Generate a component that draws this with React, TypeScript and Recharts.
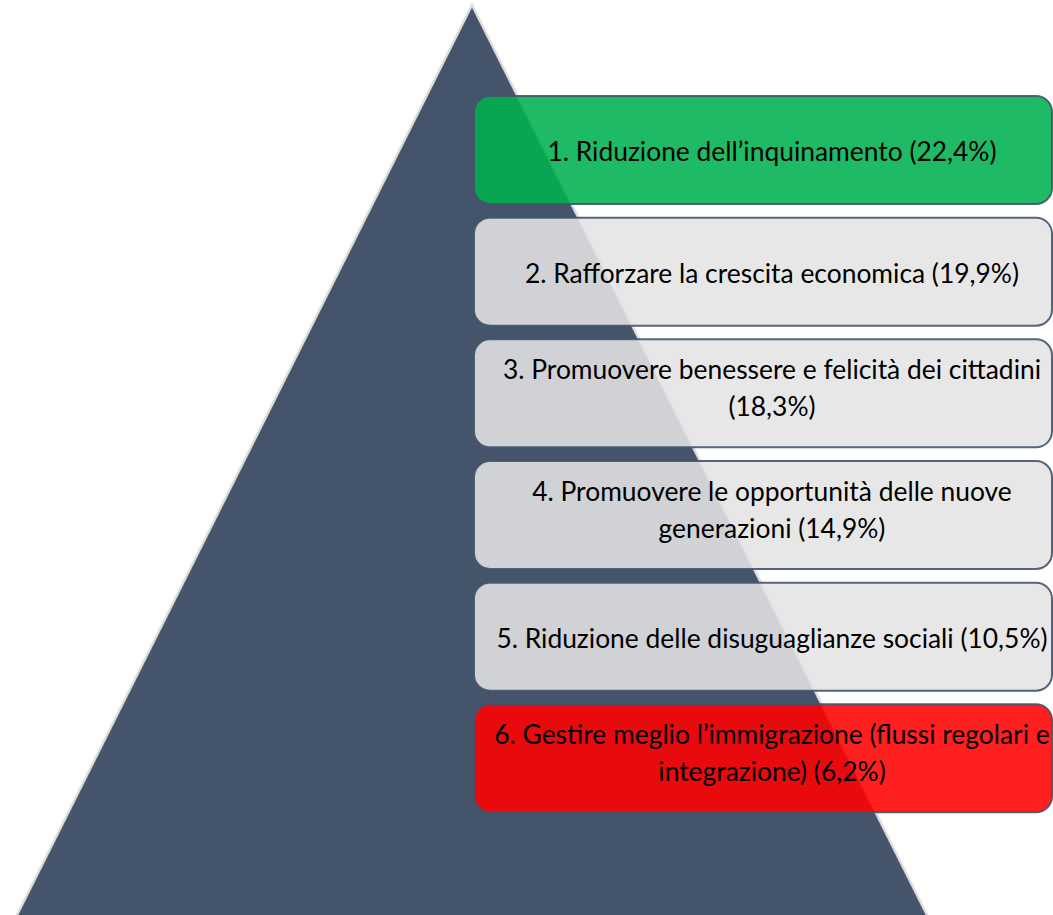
import React from 'react';
import { AreaChart, Area, BarChart, Bar, XAxis, YAxis } from 'recharts';

// ---------- data ----------
const pyramidX = [0, 50, 100];
const pyramidH = [0, 100, 0];

const categories = [
  'Riduzione dell’inquinamento',
  'Rafforzare la crescita economica',
  'Promuovere benessere e felicità dei cittadini',
  'Promuovere le opportunità delle nuove generazioni',
  'Riduzione delle disuguaglianze sociali',
  'Gestire meglio l’immigrazione (flussi regolari e integrazione)',
];
const shares = [22.4, 19.9, 18.3, 14.9, 10.5, 6.2];

// ---------- style ----------
const W = 1053;
const H = 915;
const PYRAMID_FILL = '#44546a';
const PYRAMID_EDGE = '#dcdcdc';
const GREEN = '#00B050';
const RED = '#FF0000';
const GRAY = '#E4E4E4';
const BOX_OPACITY = 0.88;
const FONT = 'Lato, "Open Sans", sans-serif';
const FONT_SIZE = 26.4;
const LINE_GAP = 37;
const MAX_CHARS = 51;
const BOX_SPAN = 100; // every box covers the whole value axis

const pyramidData = pyramidX.map((x, i) => ({ x, h: pyramidH[i] }));

const fmt = (v: number) => v.toFixed(1).replace('.', ',') + '%';

const wrap = (text: string, max: number) => {
  const words = text.split(' ');
  const lines: string[] = [];
  let cur = '';
  for (const w of words) {
    const test = cur ? cur + ' ' + w : w;
    if (test.length > max && cur) {
      lines.push(cur);
      cur = w;
    } else cur = test;
  }
  if (cur) lines.push(cur);
  return lines;
};

const rows = categories.map((c, i) => ({
  name: c,
  rank: i + 1,
  share: shares[i],
  span: BOX_SPAN,
  lines: wrap(`${i + 1}. ${c} (${fmt(shares[i])})`, MAX_CHARS),
}));

const boxColor = (rank: number, n: number) =>
  rank === 1 ? GREEN : rank === n ? RED : GRAY;

const BoxShape = (props: any) => {
  const { x, y, width, height, payload } = props;
  const fill = boxColor(payload.rank, rows.length);
  const lines: string[] = payload.lines;
  const cx = x + width / 2 + 9;
  const cy = y + height / 2 + (lines.length > 1 ? -6 : 1);
  const startY = cy - ((lines.length - 1) * LINE_GAP) / 2;
  return (
    <g>
      <rect
        x={x}
        y={y}
        width={width}
        height={height}
        rx={16}
        ry={16}
        fill={fill}
        fillOpacity={BOX_OPACITY}
        stroke={PYRAMID_FILL}
        strokeOpacity={0.9}
        strokeWidth={2}
      />
      {lines.map((l, i) => (
        <text
          key={i}
          x={cx}
          y={startY + i * LINE_GAP}
          textAnchor="middle"
          dominantBaseline="central"
          fontFamily={FONT}
          fontSize={FONT_SIZE}
          fill="#000"
        >
          {l}
        </text>
      ))}
    </g>
  );
};

export default function App() {
  return (
    <div
      style={{
        position: 'absolute',
        left: 0,
        top: 0,
        width: W,
        height: H,
        background: '#fff',
        overflow: 'hidden',
      }}
    >
      <div style={{ position: 'absolute', left: 0, top: 0 }}>
        <AreaChart
          width={W}
          height={H}
          data={pyramidData}
          margin={{ top: 5, right: 126, bottom: 0, left: 17 }}
        >
          <XAxis dataKey="x" type="number" domain={[0, 100]} hide />
          <YAxis type="number" domain={[0, 100]} hide />
          <Area
            type="linear"
            dataKey="h"
            fill={PYRAMID_FILL}
            fillOpacity={1}
            stroke={PYRAMID_EDGE}
            strokeWidth={2.5}
            isAnimationActive={false}
            dot={false}
            activeDot={false}
          />
        </AreaChart>
      </div>
      <div style={{ position: 'absolute', left: 0, top: 0 }}>
        <BarChart
          width={W}
          height={H}
          data={rows}
          layout="vertical"
          margin={{ top: 89, right: 1, bottom: 96, left: 474 }}
        >
          <XAxis type="number" domain={[0, BOX_SPAN]} hide />
          <YAxis type="category" dataKey="name" hide />
          <Bar
            dataKey="span"
            barSize={108}
            shape={BoxShape}
            isAnimationActive={false}
          />
        </BarChart>
      </div>
    </div>
  );
}
